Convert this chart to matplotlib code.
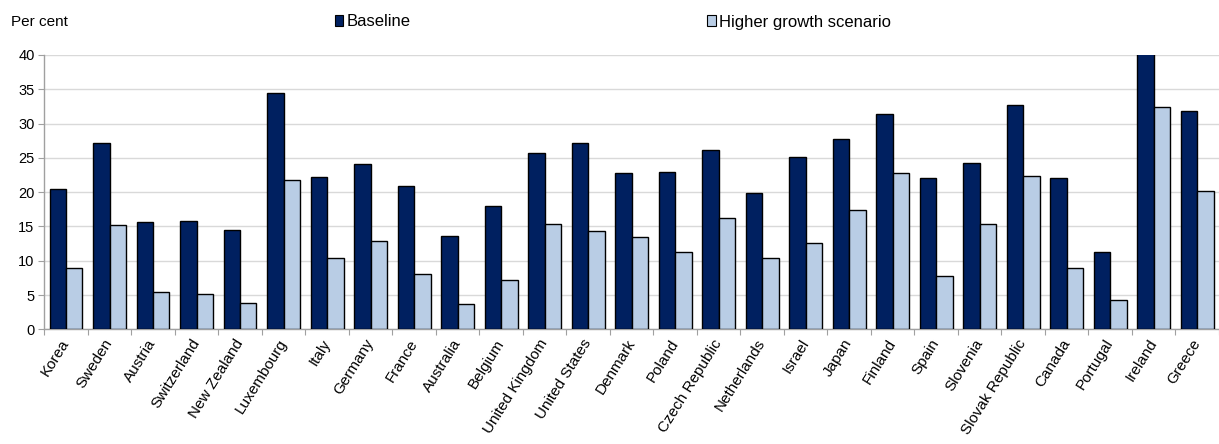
import matplotlib
matplotlib.use("Agg")
import matplotlib.pyplot as plt
from matplotlib.patches import Patch
import numpy as np

plt.rcParams['font.family'] = ['Liberation Sans', 'DejaVu Sans']

countries = ["Korea", "Sweden", "Austria", "Switzerland", "New Zealand", "Luxembourg",
             "Italy", "Germany", "France", "Australia", "Belgium", "United Kingdom",
             "United States", "Denmark", "Poland", "Czech Republic", "Netherlands",
             "Israel", "Japan", "Finland", "Spain", "Slovenia", "Slovak Republic",
             "Canada", "Portugal", "Ireland", "Greece"]
baseline = [20.4, 27.2, 15.6, 15.8, 14.5, 34.45, 22.25, 24.05, 20.95, 13.6, 18.0, 25.7,
            27.2, 22.8, 23.0, 26.1, 19.9, 25.1, 27.8, 31.4, 22.0, 24.3, 32.7, 22.1,
            11.3, 40.5, 31.8]
higher = [8.9, 15.2, 5.4, 5.15, 3.9, 21.8, 10.45, 12.9, 8.0, 3.65, 7.15, 15.3,
          14.4, 13.4, 11.2, 16.3, 10.35, 12.6, 17.4, 22.8, 7.8, 15.35, 22.4, 8.9,
          4.2, 32.4, 20.2]
yticks = [0, 5, 10, 15, 20, 25, 30, 35, 40]

dark = "#002060"
light = "#B9CDE5"

fig = plt.figure(figsize=(12.19, 4.44), dpi=100)
ax = fig.add_axes([44.3 / 1219, 114.7 / 444, 1 - 44.3 / 1219, (329.3 - 55) / 444])

x = np.arange(len(countries))
w = 0.377
ax.bar(x - w / 2, baseline, width=w, color=dark, edgecolor="black", linewidth=1.0, zorder=3)
ax.bar(x + w / 2, higher, width=w, color=light, edgecolor="black", linewidth=1.0, zorder=3)

ax.set_xlim(-0.5, 26.35)
ax.set_ylim(0, 40)
ax.set_yticks(yticks)
ax.yaxis.grid(True, color="#d9d9d9", linewidth=1.0, zorder=0)
ax.set_axisbelow(True)

ax.set_xticks(np.arange(len(countries) + 1) - 0.5, minor=False)
ax.set_xticklabels([])
ax.set_xticks(x, minor=True)
ax.set_xticklabels(countries, minor=True, rotation=58, ha="right", va="center",
                   rotation_mode="anchor", fontsize=11)
ax.tick_params(axis="x", which="minor", length=0, pad=8)
ax.tick_params(axis="x", which="major", length=4, color="#a0a0a0", direction="out")
ax.tick_params(axis="y", length=4, color="#a0a0a0", labelsize=10.5, pad=3)

for s in ["top", "right"]:
    ax.spines[s].set_visible(False)
for s in ["left", "bottom"]:
    ax.spines[s].set_color("#a0a0a0")
    ax.spines[s].set_linewidth(1.0)

fig.text(11 / 1219, 1 - 22 / 444, "Per cent", fontsize=11, va="center", ha="left")

handles = [Patch(facecolor=dark, edgecolor="black", linewidth=0.8),
           Patch(facecolor=light, edgecolor="black", linewidth=0.8)]
leg = fig.legend(handles, ["Baseline", "Higher growth scenario"], ncol=2,
                 loc="center left", bbox_to_anchor=(335 / 1219, 1 - 22 / 444),
                 frameon=False, fontsize=12, handlelength=0.5, handleheight=0.65,
                 handletextpad=0.2, columnspacing=17.8, borderaxespad=0, borderpad=0)

fig.savefig("out.png", dpi=100)
